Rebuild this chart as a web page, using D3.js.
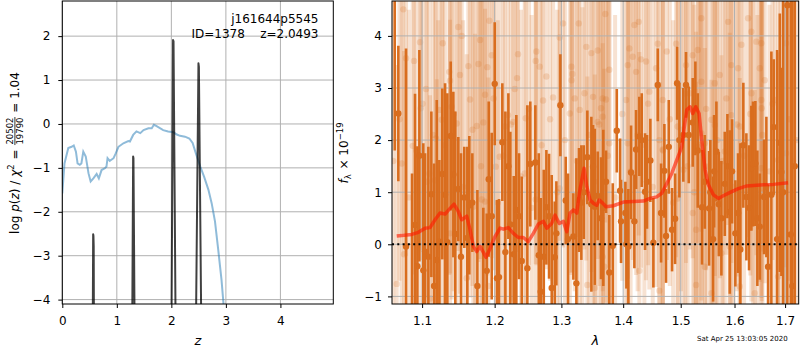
<!DOCTYPE html>
<html><head><meta charset="utf-8">
<script src="https://cdn.jsdelivr.net/npm/d3@7"></script>
<style>
body{margin:0;background:#fff}
svg{display:block}
text{font-family:"DejaVu Sans",sans-serif;fill:#000}
</style>
</head><body>
<svg id="c" width="800" height="350"></svg>
<script>
// ---------------- LEFT PANEL DATA ----------------
const zTicks = [0, 1, 2, 3, 4];
const lpTicks = [-4, -3, -2, -1, 0, 1, 2];
// chi2-based curve (blue)
const zChi = [0,0.04,0.11,0.17,0.21,0.25,0.28,0.32,0.35,0.385,0.43,0.48,0.52,0.57,0.63,0.67,0.72,0.78,0.81,0.83,0.87,0.94,0.98,1.03,1.12,1.21,1.24,1.30,1.36,1.43,1.49,1.58,1.64,1.68,1.73,1.85,1.94,2.04,2.10,2.16,2.25,2.33,2.39,2.45,2.53,2.60,2.68,2.74,2.80,2.86,2.92,2.97];
const lpChi = [-1.58,-0.9,-0.55,-0.52,-0.49,-0.63,-0.9,-0.93,-0.9,-0.63,-0.74,-1.12,-1.31,-1.24,-1.14,-1.24,-1.05,-1.01,-0.97,-0.78,-0.84,-0.78,-0.67,-0.52,-0.44,-0.39,-0.40,-0.25,-0.17,-0.21,-0.14,-0.10,-0.10,-0.02,-0.05,-0.14,-0.17,-0.19,-0.24,-0.27,-0.29,-0.33,-0.43,-0.67,-0.97,-1.2,-1.5,-1.81,-2.22,-2.87,-3.55,-4.3];
// log p(z) (black spikes)
const zPz = [0.0,0.55,0.566,0.571,0.576,0.585,1.27,1.286,1.299,1.305,1.322,1.335,1.99,2.005,2.031,2.040,2.075,2.09,2.44,2.455,2.497,2.505,2.545,2.56,4.97];
const lpPz = [-30,-7,-2.51,-2.55,-2.78,-7,-7,-3.8,-0.74,-0.78,-3.9,-7,-7,-4.1,1.91,1.88,-4.1,-7,-7,-4.1,1.38,1.30,-4.1,-7,-30];

// ---------------- RIGHT PANEL DATA ----------------
const lamTicks = [1.1, 1.2, 1.3, 1.4, 1.5, 1.6, 1.7];
const fTicks = [-1, 0, 1, 2, 3, 4];
// binned spectrum
const wave = [1.0645,1.0691,1.0790,1.0868,1.0907,1.0938,1.0964,1.1016,1.1039,1.1083,1.1123,1.1159,1.1195,1.1230,1.1270,1.1307,1.1338,1.1384,1.1420,1.1447,1.1488,1.1525,1.1571,1.1613,1.1641,1.1683,1.1754,1.1838,1.1887,1.1915,1.1958,1.2001,1.2034,1.2063,1.2111,1.2155,1.2199,1.2228,1.2278,1.2316,1.2356,1.2396,1.2480,1.2524,1.2600,1.2652,1.2682,1.2728,1.2768,1.2809,1.2850,1.2897,1.2922,1.2984,1.3068,1.3104,1.3188,1.3236,1.3278,1.3315,1.3353,1.3411,1.3476,1.3503,1.3531,1.3579,1.3633,1.3670,1.3715,1.3769,1.3826,1.3893,1.3948,1.3964,1.4037,1.4054,1.4087,1.4133,1.4189,1.4218,1.4274,1.4315,1.4372,1.4406,1.4464,1.4516,1.4593,1.4651,1.4709,1.4739,1.4787,1.4845,1.4899,1.4935,1.4976,1.5047,1.5096,1.5145,1.5218,1.5266,1.5310,1.5389,1.5439,1.5519,1.5543,1.5594,1.5613,1.5656,1.5701,1.5750,1.5814,1.5864,1.5909,1.5953,1.6016,1.6068,1.6112,1.6170,1.6229,1.6281,1.6326,1.6360,1.6405,1.6444,1.6492,1.6577,1.6623,1.6657,1.6723,1.6771,1.6838,1.6893,1.6925,1.6959,1.7047,1.7116,1.7149,1.7198];
const flux = [5.0,2.51,-0.04,-1.3,0.37,-0.42,1.70,-0.5,-0.14,-0.24,0.96,-0.8,-0.3,0.05,1.35,0.95,0.04,2.08,1.34,0.2,1.06,-0.24,0.90,0.12,0.75,0.80,-0.80,-1.3,-0.51,1.25,0.54,3.08,-0.65,-0.63,1.96,-0.15,1.50,0.38,-0.19,0.66,0.54,-0.32,-0.46,1.54,1.57,-0.21,-0.91,-0.24,0.71,0.54,-0.84,-0.25,0.21,2.67,0.84,0.1,0.15,-0.75,0.85,0.8,1.0,1.67,0.77,1.49,0.72,0.93,0.5,0.7,1.2,-0.54,-0.03,2.18,1.03,0.44,0.60,0.0,-0.04,1.38,0.44,1.82,2.07,2.0,1.01,1.20,1.61,0.03,3.06,0.6,1.41,0.16,1.87,0.28,0.49,3.09,2.0,2.10,3.06,2.10,2.34,2.61,1.8,0.71,1.2,0.69,1.0,0.10,1.4,1.78,0.77,0.50,1.16,1.50,0.62,1.40,0.21,0.6,-0.10,1.90,0.91,0.7,1.46,1.54,1.55,0.5,0.34,0.91,1.1,-0.43,0.95,2.25,0.10,1.95,1.39,1.0,4.59,0.19,-0.80,1.5];
const err = [3.2,1.3,3.8,2.66,2.52,2.3,2.03,2.44,1.89,2.11,1.59,2.35,3.07,1.57,1.64,2.14,2.86,1.43,1.59,2.35,1.0,1.99,0.97,1.75,1.33,0.95,1.84,2.0,1.1,1.49,1.6,1.18,1.5,1.5,1.13,2.7,1.4,1.78,1.5,1.82,1.21,1.62,3.13,1.2,1.1,1.96,1.8,1.67,1.1,1.2,2.17,1.07,1.0,0.98,0.84,1.26,0.83,2.4,1.0,1.1,0.9,0.9,1.68,0.8,1.5,0.85,1.17,1.5,0.6,1.1,1.2,0.8,1.0,0.8,0.6,0.85,1.1,0.9,0.9,0.76,0.76,0.9,1.12,0.9,0.8,0.86,0.7,0.95,0.9,0.9,0.9,0.8,0.87,0.7,1.1,0.9,0.63,0.93,0.85,0.9,1.1,1.1,0.9,1.1,1.0,1.2,1.08,0.96,1.0,1.1,1.0,1.0,1.57,1.0,1.02,1.15,2.04,1.2,1.22,1.2,1.2,1.2,1.2,1.3,1.02,1.1,1.35,1.5,2.75,1.3,3.63,2.48,2.0,4.0,6.0,5.0,5.5,5.0];
// individual-beam spectra (faint)
const beamWave = [1.0755,1.0973,1.0790,1.0894,1.1276,1.1488,1.1535,1.1792,1.1924,1.1958,1.1627,1.1768,1.1895,1.1511,1.1365,1.1375,1.1052,1.1651,1.1863,1.0982,1.1230,1.1398,1.1262,1.1466,1.1745,1.1838,1.1185,1.0877,1.0734,1.1096,1.1172,1.1816,1.1863,1.1697,1.1721,1.0764,1.0670,1.1195,1.1910,1.1605,1.1105,1.1375,
1.2327,1.2615,1.2606,1.2341,1.2667,1.2292,1.2768,1.3026,1.3274,1.2974,1.3157,1.3172,1.3476,1.3395,1.3160,1.2195,1.2268,1.2456,1.2717,1.2871,1.3210,1.3289,1.3503,1.3132,1.3439,1.2146,1.2073,1.2016,1.2441,1.2606,1.3331,1.3411,1.3531,1.2974,
1.3703,1.4189,1.4264,1.4104,1.4162,1.4303,1.4389,1.4593,1.4917,1.5218,1.5310,1.3579,1.3769,1.4077,1.4218,1.4563,1.4752,1.5096,1.3660,1.3715,1.4048,1.4446,1.4680,1.5084,1.3579,1.3660,1.3633,1.3769,1.4077,1.4360,1.4621,1.4680,1.4947,1.5310,1.5047,1.5218,1.5279,1.4947,1.4274,1.4621,1.5279,1.3660,1.3686,
1.5376,1.5877,1.6262,1.6326,1.6523,1.6132,1.6424,1.7020,1.5940,1.6068,1.5720,1.5376,1.5626,1.6492,1.6590,1.6326,1.6523,1.6530,1.6791,1.5940,1.5562,1.5626,1.6101,1.6360,1.5380,1.5439,1.5814,1.5909,1.6520,1.6858,1.7020,1.5488,1.5656,1.5909,1.5750,1.5439,1.6101,1.6858,1.6393,1.5562,
1.0625,1.0705,1.0825,1.0925,1.1005,1.1065,1.1145,1.1215,1.1305,1.1425,1.1555,1.1685,1.1805,1.1985,1.2045,1.2125,1.2235,1.2385,1.2505,1.2545,1.2695,1.2825,1.2935,1.3055,1.3245,1.3365,1.3525,1.3605,1.3745,1.3865,1.3985,1.4125,1.4245,1.4425,1.4505,1.4685,1.4805,1.4865,1.5005,1.5125,1.5165,1.5245,1.5345,1.5465,1.5585,1.5675,1.5775,1.5845,1.5985,1.6045,1.6185,1.6305,1.6445,1.6545,1.6685,1.6745,1.6905,1.6985,1.7085,1.7165,1.7245];
const beamFlux = [4.51,3.88,3.57,3.52,3.86,4.17,4.00,3.92,4.29,3.63,3.42,3.46,3.40,3.25,3.31,3.14,2.98,2.78,2.87,2.61,2.58,2.64,2.39,2.32,2.27,2.34,2.03,1.89,1.55,1.36,1.23,0.86,0.82,0.72,-0.06,-0.19,-0.76,-0.63,-0.80,-0.65,-1.04,0.21,
3.19,3.70,3.52,3.65,3.41,2.98,3.22,4.24,4.24,3.97,3.41,3.27,3.67,3.79,3.15,2.48,2.35,2.42,2.76,2.82,2.80,2.58,2.83,2.51,2.10,2.26,1.68,1.49,1.36,0.86,0.85,-0.78,-0.84,1.07,
4.42,4.21,4.27,3.76,3.60,3.55,3.51,3.85,3.85,3.63,3.73,3.72,3.35,3.44,3.31,3.38,3.70,3.44,2.80,2.78,2.77,2.93,2.77,2.89,2.35,2.45,2.61,1.94,1.94,1.91,2.00,1.82,2.26,1.87,1.43,0.60,0.28,0.88,-0.51,-0.89,-0.78,-0.24,-0.43,
4.34,4.27,4.34,4.08,3.86,3.83,3.89,3.86,3.44,3.38,3.25,3.12,3.09,3.38,3.15,2.90,2.77,2.61,2.77,2.48,2.39,2.29,2.26,2.31,2.13,1.94,1.78,1.75,1.46,1.62,1.75,1.49,1.36,-0.04,-0.17,-0.43,-0.81,-0.62,-0.94,-0.94,
1.6,2.4,0.9,1.8,2.7,1.2,2.1,0.6,1.9,2.5,1.1,2.2,1.5,2.8,0.8,1.7,2.3,1.3,2.6,0.7,1.9,2.4,1.0,2.0,1.6,2.9,1.2,2.3,1.7,0.9,2.5,1.4,2.1,2.7,1.1,1.8,2.4,0.8,2.2,1.5,2.9,1.0,1.9,2.6,1.3,2.0,1.6,2.8,1.1,2.3,1.7,2.5,0.9,2.1,1.4,2.7,1.8,1.2,2.4,1.6,2.0];
const beamErr = [4.3,4.0,3.8,4.1,3.9,4.3,4.0,4.2,4.4,3.9,4.1,3.8,4.0,4.2,3.9,3.7,4.0,3.8,4.1,3.9,4.3,3.7,4.0,4.2,3.8,3.9,4.1,4.0,3.8,4.2,3.9,4.3,3.7,4.0,4.1,3.9,4.2,3.8,4.0,4.3,3.9,4.1,
3.7,4.1,3.9,3.8,4.2,4.0,3.7,4.3,4.1,3.9,4.0,3.8,4.2,4.1,3.7,3.9,4.0,3.8,4.1,3.9,3.7,4.0,4.2,3.8,3.9,4.1,4.0,3.8,3.9,4.2,3.7,4.0,4.1,3.9,
4.0,3.8,4.1,3.7,3.9,4.0,4.2,3.8,4.1,3.9,3.7,4.0,3.8,4.1,3.9,4.2,4.0,3.8,3.7,3.9,4.1,3.8,4.0,4.2,3.9,3.7,3.8,4.1,3.9,4.0,3.8,4.2,3.9,3.7,4.0,4.1,3.8,3.9,4.2,4.0,3.9,4.1,3.8,
4.1,3.9,4.2,3.8,4.0,3.9,4.1,4.3,3.8,4.0,3.9,4.2,3.7,4.1,3.9,4.0,3.8,3.7,4.1,3.9,4.0,4.2,3.8,3.9,4.1,4.0,3.7,3.9,3.8,4.2,4.3,4.0,3.9,4.1,3.8,4.2,4.0,4.3,3.9,4.1,
3.4,3.1,3.6,3.2,3.0,3.5,3.3,3.7,3.1,3.4,3.2,3.0,3.6,3.3,3.5,3.1,3.4,3.2,3.0,3.7,3.3,3.1,3.5,3.2,3.4,3.0,3.6,3.1,3.3,3.5,3.2,3.4,3.0,3.1,3.6,3.3,3.2,3.5,3.1,3.4,3.0,3.6,3.3,3.1,3.4,3.2,3.5,3.0,3.6,3.2,3.3,3.1,3.5,3.4,3.2,3.0,3.3,3.6,3.1,3.4,3.2];
// best-fit model
const modelWave = [1.0670,1.0864,1.0951,1.1039,1.1105,1.1172,1.1239,1.1307,1.1375,1.1429,1.1488,1.1535,1.1605,1.1651,1.1697,1.1745,1.1792,1.1877,1.1934,1.2006,1.2078,1.2126,1.2199,1.2272,1.2346,1.2420,1.2495,1.2570,1.2646,1.2722,1.2774,1.2850,1.2901,1.2968,1.3030,1.3084,1.3136,1.3188,1.3242,1.3283,1.3321,1.3358,1.3401,1.3455,1.3508,1.3563,1.3605,1.3660,1.3715,1.3836,1.4003,1.4172,1.4343,1.4458,1.4575,1.4663,1.4752,1.4840,1.4930,1.5019,1.5066,1.5110,1.5169,1.5218,1.5273,1.5334,1.5383,1.5445,1.5507,1.5600,1.5694,1.5820,1.5947,1.6074,1.6237,1.6498,1.6763,1.7061];
const modelFlux = [0.16,0.19,0.23,0.31,0.32,0.47,0.60,0.58,0.69,0.77,0.63,0.47,0.54,0.28,-0.04,-0.14,-0.04,-0.25,-0.08,0.15,0.31,0.29,0.32,0.21,0.13,0.13,0.05,0.21,0.39,0.44,0.31,0.40,0.56,0.40,0.44,0.24,0.60,0.66,0.60,0.98,1.23,1.46,1.11,0.85,0.79,0.75,0.85,0.79,0.72,0.74,0.81,0.82,0.83,0.88,0.91,0.98,1.17,1.36,1.62,1.87,2.26,2.58,2.64,2.51,2.64,2.51,2.0,1.43,1.14,0.95,0.88,0.95,1.01,1.07,1.12,1.14,1.15,1.18];

// ---------------- DRAWING ----------------
const svg = d3.select("#c");
const ORANGE = "#d96d1e";
const GRID = "#b0b0b0";

// Left panel scales
const L = {x0: 62.3, x1: 333.3, y0: 1, y1: 304};
const xz = d3.scaleLinear().domain([0, 4.97]).range([L.x0, L.x1]);
const ylp = d3.scaleLinear().domain([-4.1, 2.8]).range([L.y1, L.y0]);
// Right panel scales
const R = {x0: 392, x1: 798.7, y0: 1, y1: 304};
const xl = d3.scaleLog().domain([1.061, 1.728]).range([R.x0, R.x1]);
const yf = d3.scaleLinear().domain([-1.146, 4.67]).range([R.y1, R.y0]);

const defs = svg.append("defs");
defs.append("clipPath").attr("id","clipL").append("rect")
  .attr("x",L.x0).attr("y",L.y0).attr("width",L.x1-L.x0).attr("height",L.y1-L.y0);
defs.append("clipPath").attr("id","clipR").append("rect")
  .attr("x",R.x0).attr("y",R.y0).attr("width",R.x1-R.x0).attr("height",R.y1-R.y0);

function grid(g, xs, xv, ys, yv, P){
  g.selectAll(null).data(xv).join("line")
    .attr("x1",d=>xs(d)).attr("x2",d=>xs(d)).attr("y1",P.y0).attr("y2",P.y1)
    .attr("stroke",GRID).attr("stroke-width",1);
  g.selectAll(null).data(yv).join("line")
    .attr("y1",d=>ys(d)).attr("y2",d=>ys(d)).attr("x1",P.x0).attr("x2",P.x1)
    .attr("stroke",GRID).attr("stroke-width",1);
}

// ---- left panel ----
const gL = svg.append("g");
grid(gL.append("g"), xz, zTicks, ylp, lpTicks, L);
const plotL = gL.append("g").attr("clip-path","url(#clipL)");
plotL.append("path")
  .datum(d3.zip(zChi, lpChi))
  .attr("d", d3.line().x(d=>xz(d[0])).y(d=>ylp(d[1])))
  .attr("fill","none").attr("stroke","#1f77b4").attr("stroke-opacity",0.5).attr("stroke-width",2);
plotL.append("path")
  .datum(d3.zip(zPz, lpPz))
  .attr("d", d3.line().x(d=>xz(d[0])).y(d=>ylp(d[1])))
  .attr("fill","none").attr("stroke","#000").attr("stroke-opacity",0.75).attr("stroke-width",2)
  .attr("stroke-linejoin","round");
gL.append("rect").attr("x",L.x0).attr("y",L.y0).attr("width",L.x1-L.x0).attr("height",L.y1-L.y0)
  .attr("fill","none").attr("stroke","#000").attr("stroke-width",1);

const fmtInt = d3.format("d");
function styleAxis(g){
  g.select(".domain").remove();
  g.selectAll("text").style("font-size","12px").style("font-family","DejaVu Sans");
  g.selectAll("line").attr("stroke","#000");
}
svg.append("g").attr("transform",`translate(0,${L.y1})`)
  .call(d3.axisBottom(xz).tickValues(zTicks).tickSize(4).tickPadding(8).tickFormat(fmtInt)).call(styleAxis);
svg.append("g").attr("transform",`translate(${L.x0},0)`)
  .call(d3.axisLeft(ylp).tickValues(lpTicks).tickSize(4).tickPadding(8).tickFormat(fmtInt)).call(styleAxis);

// text annotations
svg.append("text").attr("x",318.5).attr("y",22.5).attr("text-anchor","end").style("font-size","12px").text("j161644p5545");
svg.append("text").attr("x",318.5).attr("y",38).attr("text-anchor","end").style("font-size","12px")
  .text("ID=1378\u00a0\u00a0\u00a0\u00a0z=2.0493");

// x label z
svg.append("text").attr("x",(L.x0+L.x1)/2).attr("y",345).attr("text-anchor","middle")
  .style("font-size","13px").style("font-style","italic").text("z");

// math label builder (rotated)
function buildLabel(parts, bx, cy){
  const g = svg.append("g");
  let x = 0;
  parts.forEach(p=>{
    if (p.frac){
      const n = g.append("text").attr("y",p.ny).style("font-size",p.size+"px").text(p.num);
      const d = g.append("text").attr("y",p.dy).style("font-size",p.size+"px").text(p.den);
      const wn = n.node().getComputedTextLength(), wd = d.node().getComputedTextLength();
      const w = Math.max(wn,wd);
      n.attr("x", x + 1 + (w-wn)/2); d.attr("x", x + 1 + (w-wd)/2);
      g.append("line").attr("x1",x+0.5).attr("x2",x+w+1.5).attr("y1",p.ly).attr("y2",p.ly)
        .attr("stroke","#000").attr("stroke-width",0.8);
      x += w + 2;
    } else {
      const t = g.append("text").attr("x",x).attr("y",p.y||0)
        .style("font-size",(p.size||12)+"px").style("font-style",p.it?"italic":"normal")
        .text(p.t);
      x += t.node().getComputedTextLength() + (p.gap||0);
    }
  });
  g.attr("transform",`translate(${bx},${cy + x/2}) rotate(-90)`);
  return g;
}
buildLabel([
  {t:"log\u00a0"}, {t:"p",it:true}, {t:"("}, {t:"z",it:true}, {t:")\u00a0/\u00a0"},
  {t:"χ",it:true}, {t:"2",size:8.5,y:-5,gap:1}, {t:"\u00a0=\u00a0"},
  {frac:true,num:"20502",den:"19790",size:8.5,ny:-5.5,dy:4.5,ly:-3.6},
  {t:"\u00a0=\u00a01.04"}
], 18.5, 153);

// ---- right panel ----
const gR = svg.append("g");
const plotR = gR.append("g").attr("clip-path","url(#clipR)");
// faint beams
const beams = d3.range(beamWave.length).map(i=>({w:beamWave[i],f:beamFlux[i],e:beamErr[i]}));
plotR.append("g").selectAll("line").data(beams).join("line")
  .attr("x1",d=>xl(d.w)).attr("x2",d=>xl(d.w)).attr("y1",d=>yf(d.f-d.e)).attr("y2",d=>yf(d.f+d.e))
  .attr("stroke",ORANGE).attr("stroke-opacity",0.2).attr("stroke-width",4);
plotR.append("g").selectAll("circle").data(beams).join("circle")
  .attr("cx",d=>xl(d.w)).attr("cy",d=>yf(d.f)).attr("r",3.2)
  .attr("fill",ORANGE).attr("fill-opacity",0.2);
grid(plotR.append("g"), xl, lamTicks, yf, fTicks, R);
// binned
const bins = d3.range(wave.length).map(i=>({w:wave[i],f:flux[i],e:err[i]}));
plotR.append("g").selectAll("line").data(bins).join("line")
  .attr("x1",d=>xl(d.w)).attr("x2",d=>xl(d.w)).attr("y1",d=>yf(d.f-d.e)).attr("y2",d=>yf(d.f+d.e))
  .attr("stroke",ORANGE).attr("stroke-width",2.6);
plotR.append("g").selectAll("circle").data(bins).join("circle")
  .attr("cx",d=>xl(d.w)).attr("cy",d=>yf(d.f)).attr("r",3.2).attr("fill",ORANGE);
// model
plotR.append("path").datum(d3.zip(modelWave, modelFlux))
  .attr("d", d3.line().x(d=>xl(d[0])).y(d=>yf(d[1])))
  .attr("fill","none").attr("stroke","#ff1a00").attr("stroke-opacity",0.62).attr("stroke-width",3.5)
  .attr("stroke-linejoin","round");
// zero line
plotR.append("line").attr("x1",R.x0).attr("x2",R.x1).attr("y1",yf(0)).attr("y2",yf(0))
  .attr("stroke","#000").attr("stroke-width",2).attr("stroke-dasharray","2,3.3");
gR.append("rect").attr("x",R.x0).attr("y",R.y0).attr("width",R.x1-R.x0).attr("height",R.y1-R.y0)
  .attr("fill","none").attr("stroke","#000").attr("stroke-width",1);

svg.append("g").attr("transform",`translate(0,${R.y1})`)
  .call(d3.axisBottom(xl).tickValues(lamTicks).tickSize(4).tickPadding(8).tickFormat(d3.format(".1f"))).call(styleAxis);
svg.append("g").attr("transform",`translate(${R.x0},0)`)
  .call(d3.axisLeft(yf).tickValues(fTicks).tickSize(4).tickPadding(6).tickFormat(fmtInt)).call(styleAxis);

svg.append("text").attr("x",(R.x0+R.x1)/2).attr("y",345).attr("text-anchor","middle")
  .style("font-size","13px").style("font-style","italic").text("λ");

buildLabel([
  {t:"f",it:true}, {t:"λ",size:8.5,y:3,gap:1}, {t:"\u00a0×\u00a010"}, {t:"−19",size:8.5,y:-5}
], 347.5, 153);

svg.append("text").attr("x",697).attr("y",341).style("font-size","7px").text("Sat Apr 25 13:03:05 2020");
</script>
</body></html>
